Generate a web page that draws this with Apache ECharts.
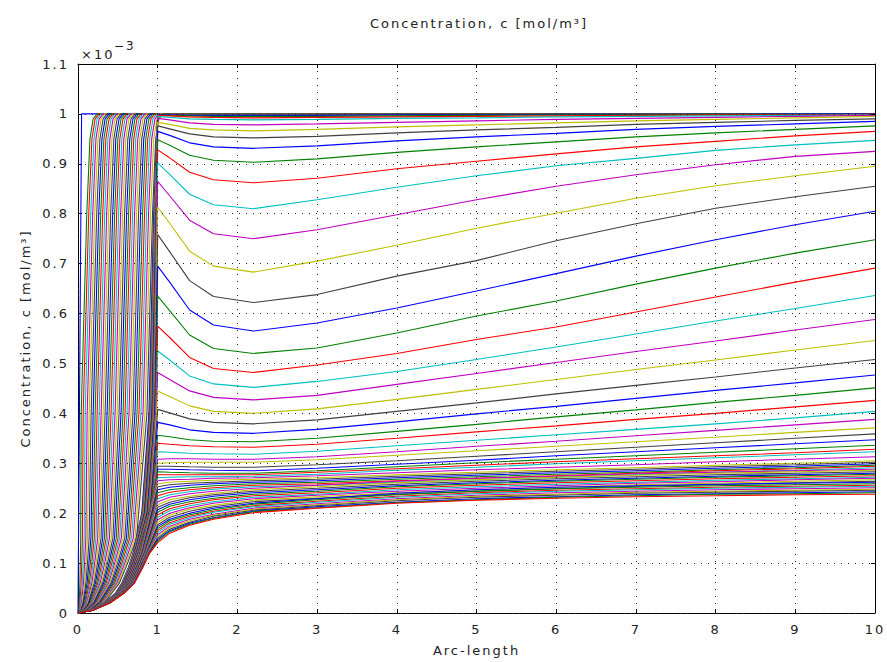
<!DOCTYPE html>
<html>
<head>
<meta charset="utf-8">
<script src="https://cdn.jsdelivr.net/npm/echarts@6/dist/echarts.min.js"></script>
<style>
  html, body { margin: 0; padding: 0; background: #fff; }
  #chart { width: 887px; height: 662px; }
  #chart svg text { letter-spacing: 2px; }
</style>
</head>
<body>
<div id="chart"></div>
<script>
// concentration values are in units of 1e-3 mol/m^3 (axis shows "x10^-3")
var lineColors = ['#0000ff', '#008000', '#ff0000', '#00bfbf', '#bf00bf', '#bfbf00', '#404040'];

// first profile (t = 0)
var initX = [0, 0.045, 10];
var initC = [0, 1, 1];

// early profiles: arc-length where each curve passes these levels, then flat at 1
var fanLevels = [0.005, 0.02, 0.06, 0.1, 0.15, 0.4, 0.8, 0.95, 0.99, 1.0];
var fanX = [
  [0.008, 0.015, 0.024, 0.029, 0.034, 0.040, 0.110, 0.150, 0.190, 0.240],
  [0.013, 0.025, 0.039, 0.047, 0.055, 0.065, 0.135, 0.175, 0.215, 0.265],
  [0.018, 0.034, 0.054, 0.065, 0.077, 0.090, 0.160, 0.200, 0.240, 0.290],
  [0.023, 0.044, 0.069, 0.083, 0.098, 0.115, 0.185, 0.225, 0.265, 0.315],
  [0.028, 0.053, 0.084, 0.101, 0.119, 0.140, 0.210, 0.250, 0.290, 0.340],
  [0.033, 0.063, 0.099, 0.119, 0.140, 0.165, 0.235, 0.275, 0.315, 0.365],
  [0.038, 0.072, 0.114, 0.137, 0.162, 0.190, 0.260, 0.300, 0.340, 0.390],
  [0.043, 0.082, 0.129, 0.155, 0.183, 0.215, 0.285, 0.325, 0.365, 0.415],
  [0.048, 0.091, 0.144, 0.173, 0.204, 0.240, 0.310, 0.350, 0.390, 0.440],
  [0.053, 0.101, 0.159, 0.191, 0.225, 0.265, 0.335, 0.375, 0.415, 0.465],
  [0.058, 0.110, 0.174, 0.209, 0.247, 0.290, 0.360, 0.400, 0.440, 0.490],
  [0.063, 0.120, 0.189, 0.227, 0.268, 0.315, 0.385, 0.425, 0.465, 0.515],
  [0.068, 0.129, 0.204, 0.245, 0.289, 0.340, 0.410, 0.450, 0.490, 0.540],
  [0.073, 0.139, 0.219, 0.263, 0.310, 0.365, 0.435, 0.475, 0.515, 0.565],
  [0.078, 0.148, 0.234, 0.281, 0.332, 0.390, 0.460, 0.500, 0.540, 0.590],
  [0.083, 0.158, 0.249, 0.299, 0.353, 0.415, 0.485, 0.525, 0.565, 0.615],
  [0.088, 0.167, 0.264, 0.317, 0.374, 0.440, 0.510, 0.550, 0.590, 0.640],
  [0.093, 0.177, 0.279, 0.335, 0.395, 0.465, 0.535, 0.575, 0.615, 0.665],
  [0.098, 0.186, 0.294, 0.353, 0.417, 0.490, 0.560, 0.600, 0.640, 0.690],
  [0.103, 0.196, 0.309, 0.371, 0.438, 0.515, 0.585, 0.625, 0.665, 0.715],
  [0.108, 0.205, 0.324, 0.389, 0.459, 0.540, 0.610, 0.650, 0.690, 0.740],
  [0.113, 0.215, 0.339, 0.407, 0.480, 0.565, 0.635, 0.675, 0.715, 0.765],
  [0.118, 0.224, 0.354, 0.425, 0.502, 0.590, 0.660, 0.700, 0.740, 0.790],
  [0.123, 0.234, 0.369, 0.443, 0.523, 0.615, 0.685, 0.725, 0.765, 0.815],
  [0.128, 0.243, 0.384, 0.461, 0.544, 0.640, 0.710, 0.750, 0.790, 0.840],
  [0.133, 0.253, 0.399, 0.479, 0.565, 0.665, 0.735, 0.775, 0.815, 0.865],
  [0.138, 0.262, 0.414, 0.497, 0.587, 0.690, 0.760, 0.800, 0.840, 0.890],
  [0.143, 0.272, 0.429, 0.515, 0.608, 0.715, 0.785, 0.825, 0.865, 0.915],
  [0.148, 0.281, 0.444, 0.533, 0.629, 0.740, 0.810, 0.850, 0.890, 0.940],
  [0.153, 0.291, 0.459, 0.551, 0.650, 0.765, 0.835, 0.875, 0.915, 0.965],
  [0.158, 0.300, 0.474, 0.569, 0.672, 0.790, 0.860, 0.900, 0.940, 0.990],
  [0.163, 0.310, 0.489, 0.587, 0.693, 0.815, 0.885, 0.925, 0.965, 1.015],
  [0.168, 0.319, 0.504, 0.605, 0.714, 0.840, 0.910, 0.950, 0.990, 1.040],
  [0.173, 0.329, 0.519, 0.623, 0.735, 0.865, 0.935, 0.975, 1.015, 1.065]
];

// later profiles: rising part before x = 1 (arc-length at these levels)
var lateLevels = [0.005, 0.02, 0.04, 0.06, 0.09, 0.12, 0.2, 0.4, 0.8];
var lateLeftX = [
  [0.140, 0.330, 0.470, 0.550, 0.630, 0.690, 0.800, 0.890, 0.950],
  [0.141, 0.331, 0.472, 0.553, 0.633, 0.693, 0.805, 0.900, 0.955],
  [0.142, 0.333, 0.474, 0.556, 0.636, 0.696, 0.810, 0.905, 0.960],
  [0.142, 0.334, 0.475, 0.558, 0.638, 0.699, 0.815, 0.910, 0.965],
  [0.143, 0.336, 0.477, 0.561, 0.641, 0.702, 0.820, 0.915, 0.970],
  [0.144, 0.337, 0.479, 0.564, 0.644, 0.705, 0.825, 0.920, 0.975],
  [0.144, 0.338, 0.481, 0.567, 0.647, 0.708, 0.830, 0.925, 0.978],
  [0.145, 0.340, 0.483, 0.570, 0.650, 0.711, 0.835, 0.930, 0.981],
  [0.146, 0.341, 0.484, 0.572, 0.652, 0.714, 0.840, 0.935, 0.984],
  [0.146, 0.342, 0.486, 0.575, 0.655, 0.717, 0.845, 0.940, 0.987],
  [0.147, 0.344, 0.488, 0.578, 0.658, 0.720, 0.850, 0.945, 0.990],
  [0.148, 0.345, 0.490, 0.581, 0.661, 0.723, 0.855, 0.950, 0.993],
  [0.149, 0.346, 0.492, 0.584, 0.664, 0.726, 0.860, 0.955, 0.996],
  [0.149, 0.348, 0.493, 0.586, 0.666, 0.729, 0.865, 0.960],
  [0.150, 0.349, 0.495, 0.589, 0.669, 0.732, 0.870, 0.965],
  [0.151, 0.350, 0.497, 0.592, 0.672, 0.735, 0.875, 0.970],
  [0.151, 0.352, 0.499, 0.595, 0.675, 0.738, 0.880, 0.973],
  [0.152, 0.353, 0.501, 0.598, 0.678, 0.741, 0.885, 0.976],
  [0.153, 0.354, 0.502, 0.600, 0.680, 0.744, 0.890, 0.979],
  [0.153, 0.356, 0.504, 0.603, 0.683, 0.747, 0.895, 0.985],
  [0.154, 0.357, 0.506, 0.606, 0.686, 0.750, 0.900],
  [0.155, 0.359, 0.508, 0.609, 0.689, 0.753, 0.905],
  [0.155, 0.360, 0.510, 0.612, 0.692, 0.756, 0.910],
  [0.156, 0.361, 0.511, 0.614, 0.694, 0.759, 0.915],
  [0.157, 0.363, 0.513, 0.617, 0.697, 0.762, 0.920],
  [0.158, 0.364, 0.515, 0.620, 0.700, 0.765, 0.925],
  [0.158, 0.365, 0.517, 0.623, 0.703, 0.770, 0.930],
  [0.159, 0.367, 0.519, 0.626, 0.706, 0.775, 0.935],
  [0.160, 0.368, 0.520, 0.628, 0.708, 0.780, 0.940],
  [0.160, 0.370, 0.520, 0.630, 0.710, 0.780],
  [0.161, 0.371, 0.522, 0.633, 0.713, 0.784],
  [0.161, 0.372, 0.524, 0.636, 0.717, 0.788],
  [0.162, 0.373, 0.526, 0.638, 0.720, 0.792],
  [0.163, 0.374, 0.528, 0.641, 0.724, 0.797],
  [0.163, 0.375, 0.530, 0.644, 0.727, 0.801],
  [0.164, 0.376, 0.532, 0.647, 0.731, 0.805],
  [0.165, 0.377, 0.534, 0.649, 0.734, 0.809],
  [0.166, 0.378, 0.537, 0.652, 0.738, 0.813],
  [0.166, 0.379, 0.539, 0.655, 0.741, 0.817],
  [0.167, 0.380, 0.541, 0.658, 0.744, 0.821],
  [0.168, 0.381, 0.543, 0.660, 0.748, 0.826],
  [0.168, 0.382, 0.545, 0.663, 0.751, 0.830],
  [0.169, 0.383, 0.547, 0.666, 0.755, 0.834],
  [0.170, 0.384, 0.549, 0.669, 0.758, 0.838],
  [0.170, 0.386, 0.551, 0.671, 0.762, 0.842],
  [0.171, 0.387, 0.553, 0.674, 0.765, 0.846],
  [0.172, 0.388, 0.555, 0.677, 0.769, 0.850],
  [0.172, 0.389, 0.557, 0.680, 0.772, 0.854],
  [0.173, 0.390, 0.559, 0.682, 0.776, 0.859],
  [0.174, 0.391, 0.561, 0.685, 0.779, 0.863],
  [0.175, 0.392, 0.563, 0.688, 0.783, 0.867],
  [0.175, 0.393, 0.566, 0.691, 0.786, 0.871],
  [0.176, 0.394, 0.568, 0.693, 0.790, 0.875],
  [0.177, 0.395, 0.570, 0.696, 0.793, 0.879],
  [0.177, 0.396, 0.572, 0.699, 0.797, 0.883],
  [0.178, 0.397, 0.574, 0.702, 0.800, 0.888],
  [0.179, 0.398, 0.576, 0.704, 0.803, 0.892],
  [0.179, 0.399, 0.578, 0.707, 0.807, 0.896],
  [0.180, 0.400, 0.580, 0.710, 0.810, 0.900]
];

// later profiles from x = 1 on, sampled at arcGrid
var arcGrid = [1, 1.15, 1.4, 1.7, 2.2, 3, 4, 5, 6, 7, 8, 9, 10];
var lateC = [
  [0.999, 0.998, 0.997, 0.997, 0.997, 0.997, 0.998, 0.998, 0.999, 0.999, 0.999, 1.000, 1.000],
  [0.998, 0.997, 0.996, 0.995, 0.995, 0.995, 0.996, 0.997, 0.998, 0.998, 0.999, 0.999, 0.999],
  [0.997, 0.996, 0.994, 0.993, 0.992, 0.993, 0.994, 0.995, 0.996, 0.997, 0.998, 0.998, 0.999],
  [0.995, 0.993, 0.990, 0.989, 0.988, 0.989, 0.991, 0.992, 0.994, 0.995, 0.996, 0.997, 0.998],
  [0.991, 0.988, 0.982, 0.979, 0.978, 0.980, 0.983, 0.986, 0.989, 0.991, 0.993, 0.995, 0.997],
  [0.983, 0.979, 0.971, 0.968, 0.966, 0.969, 0.974, 0.978, 0.982, 0.986, 0.989, 0.992, 0.995],
  [0.976, 0.970, 0.960, 0.954, 0.952, 0.955, 0.962, 0.968, 0.973, 0.979, 0.983, 0.987, 0.990],
  [0.965, 0.957, 0.942, 0.934, 0.931, 0.936, 0.946, 0.954, 0.961, 0.969, 0.975, 0.980, 0.985],
  [0.948, 0.937, 0.917, 0.907, 0.903, 0.910, 0.923, 0.934, 0.944, 0.954, 0.962, 0.969, 0.976],
  [0.928, 0.912, 0.883, 0.868, 0.862, 0.871, 0.890, 0.905, 0.920, 0.934, 0.945, 0.956, 0.965],
  [0.902, 0.879, 0.839, 0.818, 0.810, 0.828, 0.853, 0.876, 0.896, 0.911, 0.927, 0.938, 0.947],
  [0.865, 0.836, 0.787, 0.760, 0.750, 0.768, 0.798, 0.828, 0.855, 0.878, 0.898, 0.915, 0.925],
  [0.813, 0.781, 0.725, 0.695, 0.683, 0.705, 0.737, 0.771, 0.801, 0.831, 0.856, 0.876, 0.895],
  [0.758, 0.724, 0.666, 0.634, 0.622, 0.638, 0.675, 0.706, 0.746, 0.780, 0.811, 0.834, 0.855],
  [0.695, 0.663, 0.607, 0.577, 0.565, 0.581, 0.611, 0.645, 0.680, 0.715, 0.748, 0.778, 0.805],
  [0.635, 0.606, 0.557, 0.530, 0.520, 0.531, 0.561, 0.595, 0.625, 0.659, 0.691, 0.721, 0.748],
  [0.575, 0.552, 0.512, 0.490, 0.482, 0.497, 0.520, 0.548, 0.573, 0.603, 0.633, 0.663, 0.691],
  [0.525, 0.507, 0.475, 0.459, 0.452, 0.464, 0.484, 0.508, 0.533, 0.559, 0.585, 0.610, 0.636],
  [0.482, 0.468, 0.445, 0.432, 0.427, 0.436, 0.458, 0.480, 0.502, 0.524, 0.545, 0.567, 0.588],
  [0.445, 0.434, 0.415, 0.404, 0.400, 0.409, 0.428, 0.448, 0.468, 0.488, 0.507, 0.527, 0.546],
  [0.408, 0.401, 0.389, 0.382, 0.379, 0.387, 0.404, 0.421, 0.439, 0.456, 0.473, 0.491, 0.508],
  [0.382, 0.377, 0.367, 0.362, 0.360, 0.368, 0.383, 0.399, 0.414, 0.430, 0.446, 0.461, 0.477],
  [0.356, 0.353, 0.347, 0.344, 0.343, 0.350, 0.364, 0.378, 0.393, 0.407, 0.422, 0.436, 0.451],
  [0.340, 0.338, 0.335, 0.333, 0.332, 0.338, 0.350, 0.363, 0.375, 0.388, 0.400, 0.413, 0.426],
  [0.323, 0.322, 0.320, 0.319, 0.318, 0.324, 0.335, 0.346, 0.357, 0.368, 0.379, 0.391, 0.404],
  [0.308, 0.309, 0.309, 0.308, 0.308, 0.313, 0.323, 0.334, 0.344, 0.355, 0.366, 0.377, 0.388],
  [0.300, 0.301, 0.302, 0.302, 0.302, 0.307, 0.316, 0.325, 0.334, 0.343, 0.352, 0.362, 0.371],
  [0.294, 0.294, 0.293, 0.292, 0.292, 0.297, 0.305, 0.314, 0.323, 0.332, 0.341, 0.350, 0.359],
  [0.288, 0.288, 0.287, 0.286, 0.285, 0.290, 0.298, 0.306, 0.315, 0.323, 0.331, 0.339, 0.347],
  [0.283, 0.282, 0.281, 0.280, 0.280, 0.285, 0.293, 0.301, 0.308, 0.315, 0.322, 0.329, 0.336],
  [0.277, 0.277, 0.277, 0.277, 0.277, 0.282, 0.289, 0.296, 0.303, 0.309, 0.315, 0.321, 0.328],
  [0.271, 0.272, 0.273, 0.273, 0.274, 0.278, 0.286, 0.292, 0.299, 0.305, 0.311, 0.317, 0.323],
  [0.265, 0.267, 0.268, 0.270, 0.271, 0.275, 0.281, 0.287, 0.292, 0.297, 0.303, 0.308, 0.313],
  [0.259, 0.262, 0.264, 0.266, 0.268, 0.271, 0.277, 0.282, 0.287, 0.291, 0.296, 0.300, 0.305],
  [0.253, 0.257, 0.260, 0.262, 0.265, 0.268, 0.274, 0.279, 0.284, 0.288, 0.293, 0.297, 0.302],
  [0.247, 0.252, 0.256, 0.259, 0.262, 0.265, 0.271, 0.276, 0.281, 0.285, 0.290, 0.294, 0.299],
  [0.241, 0.247, 0.251, 0.255, 0.259, 0.262, 0.268, 0.273, 0.278, 0.282, 0.287, 0.291, 0.296],
  [0.235, 0.242, 0.247, 0.251, 0.256, 0.259, 0.265, 0.270, 0.275, 0.280, 0.285, 0.289, 0.294],
  [0.229, 0.237, 0.243, 0.248, 0.253, 0.256, 0.262, 0.267, 0.272, 0.277, 0.282, 0.286, 0.291],
  [0.223, 0.232, 0.239, 0.244, 0.250, 0.256, 0.264, 0.270, 0.274, 0.279, 0.282, 0.285, 0.288],
  [0.217, 0.227, 0.234, 0.240, 0.247, 0.253, 0.261, 0.267, 0.272, 0.276, 0.280, 0.283, 0.286],
  [0.212, 0.222, 0.231, 0.237, 0.244, 0.250, 0.258, 0.264, 0.269, 0.273, 0.277, 0.280, 0.283],
  [0.207, 0.218, 0.227, 0.234, 0.241, 0.247, 0.255, 0.261, 0.266, 0.270, 0.274, 0.277, 0.280],
  [0.202, 0.214, 0.223, 0.230, 0.238, 0.244, 0.253, 0.259, 0.264, 0.268, 0.272, 0.275, 0.278],
  [0.197, 0.209, 0.219, 0.227, 0.235, 0.241, 0.250, 0.256, 0.261, 0.265, 0.269, 0.272, 0.275],
  [0.192, 0.205, 0.215, 0.223, 0.232, 0.238, 0.247, 0.253, 0.258, 0.262, 0.266, 0.269, 0.272],
  [0.187, 0.200, 0.211, 0.220, 0.229, 0.236, 0.244, 0.250, 0.255, 0.260, 0.263, 0.267, 0.270],
  [0.182, 0.196, 0.208, 0.216, 0.226, 0.233, 0.241, 0.247, 0.252, 0.257, 0.260, 0.264, 0.267],
  [0.177, 0.192, 0.204, 0.213, 0.223, 0.230, 0.238, 0.244, 0.249, 0.254, 0.257, 0.261, 0.264],
  [0.173, 0.188, 0.200, 0.210, 0.220, 0.229, 0.240, 0.247, 0.252, 0.255, 0.258, 0.260, 0.262],
  [0.169, 0.185, 0.197, 0.207, 0.218, 0.227, 0.237, 0.244, 0.249, 0.252, 0.255, 0.257, 0.259],
  [0.165, 0.181, 0.194, 0.204, 0.215, 0.224, 0.234, 0.241, 0.246, 0.249, 0.252, 0.254, 0.256],
  [0.161, 0.178, 0.191, 0.202, 0.213, 0.222, 0.232, 0.239, 0.244, 0.247, 0.250, 0.252, 0.254],
  [0.157, 0.174, 0.188, 0.198, 0.210, 0.219, 0.229, 0.236, 0.241, 0.244, 0.247, 0.249, 0.251],
  [0.153, 0.171, 0.185, 0.196, 0.208, 0.217, 0.227, 0.234, 0.238, 0.242, 0.244, 0.246, 0.248],
  [0.150, 0.168, 0.182, 0.194, 0.206, 0.215, 0.225, 0.232, 0.236, 0.240, 0.242, 0.244, 0.246],
  [0.147, 0.165, 0.180, 0.191, 0.204, 0.213, 0.222, 0.229, 0.233, 0.237, 0.239, 0.241, 0.243],
  [0.144, 0.163, 0.178, 0.190, 0.203, 0.211, 0.221, 0.227, 0.232, 0.235, 0.238, 0.239, 0.241],
  [0.141, 0.160, 0.176, 0.188, 0.201, 0.210, 0.220, 0.226, 0.230, 0.233, 0.235, 0.237, 0.238]
];

var chart = echarts.init(document.getElementById('chart'), null, { renderer: 'svg' });
var textColor = '#222';
var font = 'DejaVu Sans';

var seriesList = [];
function addCurve(points) {
    var color = lineColors[seriesList.length % lineColors.length];
    seriesList.push({
        type: 'line',
        data: points,
        showSymbol: false,
        silent: true,
        animation: false,
        lineStyle: { width: 1.1, color: color },
        itemStyle: { color: color }
    });
}

addCurve(initX.map(function (x, i) { return [x, initC[i]]; }));

fanX.forEach(function (xs) {
    var pts = [[0, 0]];
    xs.forEach(function (x, k) { pts.push([x, fanLevels[k]]); });
    pts.push([10, 1]);
    addCurve(pts);
});

lateLeftX.forEach(function (xs, n) {
    var pts = [[0, 0]];
    xs.forEach(function (x, k) { pts.push([x, lateLevels[k]]); });
    arcGrid.forEach(function (x, k) { pts.push([x, lateC[n][k]]); });
    addCurve(pts);
});

var dotted = { show: true, lineStyle: { color: '#222', type: [1, 6], width: 1 } };

var option = {
    backgroundColor: '#fff',
    animation: false,
    title: {
        text: 'Concentration, c [mol/m³]',
        left: 474, top: 12, textAlign: 'center',
        textStyle: { fontFamily: font, fontSize: 13, fontWeight: 'normal', color: textColor }
    },
    graphic: [
        { type: 'text', left: 81, top: 48, silent: true,
          style: { text: '×10', fontFamily: font, fontSize: 13, fill: textColor } },
        { type: 'text', left: 114, top: 40, silent: true,
          style: { text: '−3', fontFamily: font, fontSize: 12, fill: textColor } }
    ],
    grid: { left: 78, right: 12, top: 64, bottom: 48 },
    xAxis: [{
        type: 'value', min: 0, max: 10, interval: 1,
        name: 'Arc-length', nameLocation: 'middle', nameGap: 31,
        nameTextStyle: { fontFamily: font, fontSize: 13, color: textColor },
        axisLine: { show: true, lineStyle: { color: '#000', width: 1 } },
        axisTick: { show: true, inside: true, length: 4, lineStyle: { color: '#000' } },
        axisLabel: { fontFamily: font, fontSize: 13, color: textColor, margin: 10 },
        splitLine: { show: false }
    }, {
        type: 'value', min: 0, max: 10, interval: 1, position: 'top', z: 10,
        axisLine: { show: true, onZero: false, lineStyle: { color: '#000', width: 1 } },
        axisTick: { show: true, inside: true, length: 4, lineStyle: { color: '#000' } },
        axisLabel: { show: false },
        splitLine: dotted
    }],
    yAxis: [{
        type: 'value', min: 0, max: 1.1, interval: 0.1,
        name: 'Concentration, c [mol/m³]', nameLocation: 'middle', nameGap: 46,
        nameTextStyle: { fontFamily: font, fontSize: 13, color: textColor },
        axisLine: { show: true, lineStyle: { color: '#000', width: 1 } },
        axisTick: { show: true, inside: true, length: 4, lineStyle: { color: '#000' } },
        axisLabel: {
            fontFamily: font, fontSize: 13, color: textColor, margin: 9,
            formatter: function (v) { return String(Math.round(v * 10) / 10); }
        },
        splitLine: { show: false }
    }, {
        type: 'value', min: 0, max: 1.1, interval: 0.1, position: 'right', z: 10,
        axisLine: { show: true, onZero: false, lineStyle: { color: '#000', width: 1 } },
        axisTick: { show: true, inside: true, length: 4, lineStyle: { color: '#000' } },
        axisLabel: { show: false },
        splitLine: dotted
    }],
    series: seriesList
};

chart.setOption(option);
</script>
</body>
</html>
